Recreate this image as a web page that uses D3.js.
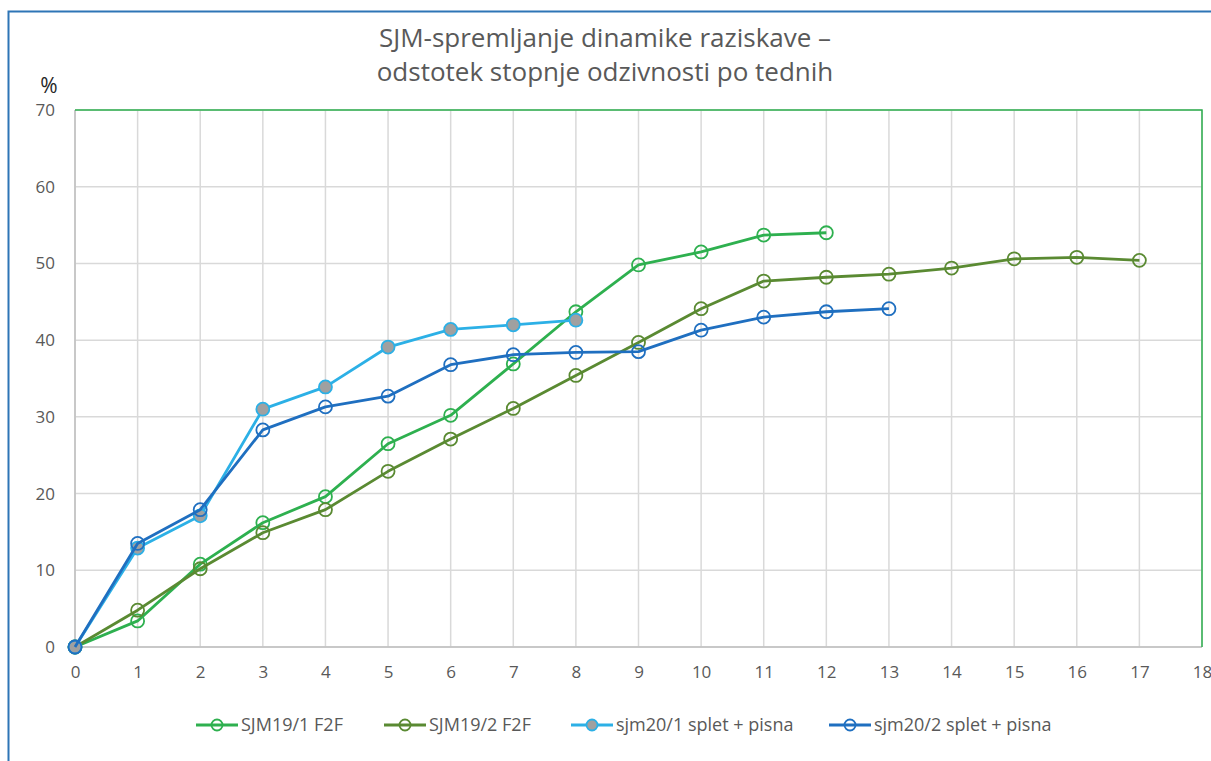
<!DOCTYPE html>
<html>
<head>
<meta charset="utf-8">
<script src="https://cdn.jsdelivr.net/npm/d3@7"></script>
<style>
  body { margin: 0; background: #fff; }
  text { font-family: "Open Sans", "Noto Sans", sans-serif; }
</style>
</head>
<body>
<div class="container"></div>
<script>
// weeks
var weeks = d3.range(0, 19);
var yTicks = [0, 10, 20, 30, 40, 50, 60, 70];

var seriesNames = ["SJM19/1 F2F", "SJM19/2 F2F", "sjm20/1 splet + pisna", "sjm20/2 splet + pisna"];
var seriesColors = ["#2eb04f", "#5a8a32", "#2cb0e6", "#1f6fc0"];
var markerFill = ["none", "none", "#a0a0a0", "none"];

var sjm19_1 = [0, 3.4, 10.8, 16.2, 19.6, 26.5, 30.2, 36.9, 43.7, 49.8, 51.5, 53.7, 54.0];
var sjm19_2 = [0, 4.8, 10.2, 14.9, 17.9, 22.9, 27.1, 31.1, 35.4, 39.7, 44.1, 47.7, 48.2, 48.6, 49.4, 50.6, 50.8, 50.4];
var sjm20_1 = [0, 12.9, 17.1, 31.0, 33.9, 39.1, 41.4, 42.0, 42.6];
var sjm20_2 = [0, 13.5, 17.9, 28.3, 31.3, 32.7, 36.8, 38.1, 38.4, 38.5, 41.3, 43.0, 43.7, 44.1];

var allSeries = [sjm19_1, sjm19_2, sjm20_1, sjm20_2];

var width = 1211, height = 761;
var svg = d3.select("div.container").append("svg")
    .attr("width", width)
    .attr("height", height);

// outer frame
svg.append("rect")
    .attr("x", 8.5).attr("y", 11.5)
    .attr("width", 1220).attr("height", 780)
    .attr("fill", "none")
    .attr("stroke", "#2e75b6")
    .attr("stroke-width", 2);

var x = d3.scaleLinear().domain([0, 18]).range([75, 1202]);
var y = d3.scaleLinear().domain([0, 70]).range([647, 110]);

// grid
svg.append("g").selectAll("line")
    .data(weeks)
    .enter().append("line")
    .attr("x1", d => x(d)).attr("x2", d => x(d))
    .attr("y1", y(70)).attr("y2", y(0))
    .attr("stroke", "#d9d9d9").attr("stroke-width", 1.5);

svg.append("g").selectAll("line")
    .data(yTicks)
    .enter().append("line")
    .attr("x1", x(0)).attr("x2", x(18))
    .attr("y1", d => y(d)).attr("y2", d => y(d))
    .attr("stroke", "#d9d9d9").attr("stroke-width", 1.5);

// axis lines
svg.append("line").attr("x1", x(0)).attr("x2", x(18)).attr("y1", y(0)).attr("y2", y(0))
    .attr("stroke", "#bfbfbf").attr("stroke-width", 1.5);
svg.append("line").attr("x1", x(0)).attr("x2", x(0)).attr("y1", y(0)).attr("y2", y(70))
    .attr("stroke", "#bfbfbf").attr("stroke-width", 1.5);

// green plot border top/right
svg.append("path")
    .attr("d", "M" + x(0) + "," + y(70) + "H" + x(18) + "V" + y(0))
    .attr("fill", "none")
    .attr("stroke", "#2eb04f").attr("stroke-width", 1.5);

// axes labels
var xAxis = d3.axisBottom(x).tickValues(weeks).tickSize(0).tickPadding(19);
svg.append("g").attr("transform", "translate(0," + y(0) + ")").call(xAxis)
    .call(g => g.select(".domain").remove())
    .selectAll("text").attr("font-size", 17).attr("fill", "#595959")
    .style("font-family", "'Open Sans', sans-serif");

var yAxis = d3.axisLeft(y).tickValues(yTicks).tickSize(0).tickPadding(20);
svg.append("g").attr("transform", "translate(" + x(0) + ",0)").call(yAxis)
    .call(g => g.select(".domain").remove())
    .selectAll("text").attr("font-size", 17).attr("fill", "#595959")
    .style("font-family", "'Open Sans', sans-serif");

svg.append("text").attr("x", 49).attr("y", 93).attr("text-anchor", "middle")
    .attr("font-size", 21).attr("fill", "#262626").text("%");

// title
svg.append("text").attr("x", 605).attr("y", 47).attr("text-anchor", "middle")
    .attr("font-size", 26).attr("fill", "#595959")
    .text("SJM-spremljanje dinamike raziskave  –");
svg.append("text").attr("x", 605).attr("y", 81).attr("text-anchor", "middle")
    .attr("font-size", 26).attr("fill", "#595959")
    .text("odstotek stopnje odzivnosti po tednih");

// series
var line = d3.line().x((d, i) => x(i)).y(d => y(d));

allSeries.forEach(function(vals, s) {
    var g = svg.append("g");
    g.append("path")
        .datum(vals)
        .attr("d", line)
        .attr("fill", "none")
        .attr("stroke", seriesColors[s])
        .attr("stroke-width", 2.8)
        .attr("stroke-linejoin", "round");
    g.selectAll("circle")
        .data(vals)
        .enter().append("circle")
        .attr("cx", (d, i) => x(i))
        .attr("cy", d => y(d))
        .attr("r", 6.5)
        .attr("fill", markerFill[s])
        .attr("stroke", seriesColors[s])
        .attr("stroke-width", 1.8);
});

// legend
var legendX = [196, 384, 571, 829];
var leg = svg.append("g").selectAll("g")
    .data(seriesNames)
    .enter().append("g")
    .attr("transform", (d, i) => "translate(" + legendX[i] + ",725)");
leg.append("line").attr("x1", 0).attr("x2", 42).attr("y1", 0).attr("y2", 0)
    .attr("stroke", (d, i) => seriesColors[i]).attr("stroke-width", 2.8);
leg.append("circle").attr("cx", 21).attr("cy", 0).attr("r", 5.5)
    .attr("fill", (d, i) => markerFill[i])
    .attr("stroke", (d, i) => seriesColors[i]).attr("stroke-width", 1.8);
leg.append("text").attr("x", 45).attr("y", 6)
    .attr("font-size", 18).attr("fill", "#595959")
    .text(d => d);
</script>
</body>
</html>
